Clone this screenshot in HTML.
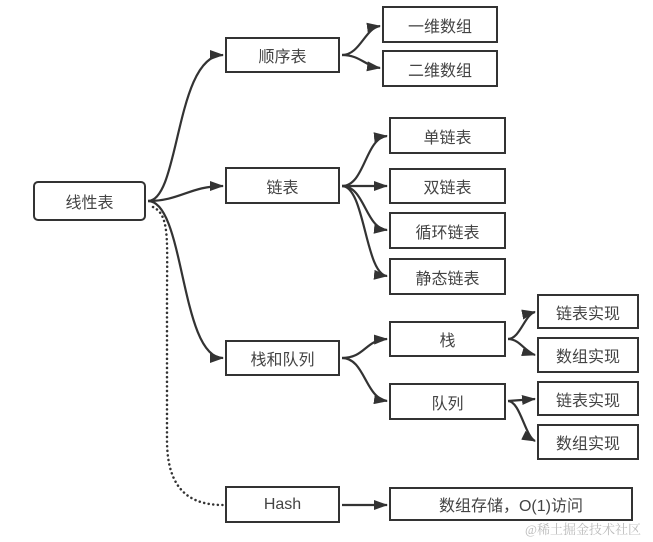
<!DOCTYPE html>
<html><head><meta charset="utf-8"><style>
body{margin:0;width:653px;height:542px;background:#fff;overflow:hidden;position:relative;font-family:"Liberation Sans","Noto Sans CJK SC",sans-serif}
.b{position:absolute;border:2px solid #333;box-sizing:border-box;display:flex;align-items:center;justify-content:center;font-size:16px;color:#444;background:#fff}
svg{position:absolute;left:0;top:0}
</style></head><body>
<svg width="653" height="542">
<defs><marker id="a" markerWidth="14" markerHeight="10" refX="13" refY="5" orient="auto" markerUnits="userSpaceOnUse"><path d="M0,0L14,5L0,10z" fill="#333"/></marker></defs>
<g fill="none" stroke="#333" stroke-width="2.2" marker-end="url(#a)">
<path d="M148,201C180,201 175,55 223,55"/>
<path d="M148,201C180,201 190,186 223,186"/>
<path d="M148,201C185,201 180,358 223,358"/>
<path d="M342,55C360,55 365,28 380,26"/>
<path d="M342,55C360,55 365,66 380,68"/>
<path d="M342,186C365,186 365,138 387,136"/>
<path d="M342,186L387,186"/>
<path d="M342,186C365,186 365,228 387,230"/>
<path d="M342,186C365,186 365,274 387,276"/>
<path d="M342,358C365,358 365,340 387,339"/>
<path d="M342,358C365,358 365,398 387,401"/>
<path d="M508,339C520,339 525,314 535,312"/>
<path d="M508,339C520,339 525,352 535,355"/>
<path d="M508,401L535,399"/>
<path d="M508,401C520,401 525,436 535,441"/>
<path d="M342,505L387,505"/>
</g>
<path d="M153,207C170,215 167,240 167,300L167,440C167,490 190,505 223,505" fill="none" stroke="#333" stroke-width="2.5" stroke-linecap="round" stroke-dasharray="0.1,4.5"/>
</svg>
<div class="b" style="left:33px;top:181px;width:113px;height:40px;border-radius:5px">线性表</div>
<div class="b" style="left:225px;top:37px;width:115px;height:36px">顺序表</div>
<div class="b" style="left:382px;top:6px;width:116px;height:37px">一维数组</div>
<div class="b" style="left:382px;top:50px;width:116px;height:37px">二维数组</div>
<div class="b" style="left:225px;top:167px;width:115px;height:37px">链表</div>
<div class="b" style="left:389px;top:117px;width:117px;height:37px">单链表</div>
<div class="b" style="left:389px;top:168px;width:117px;height:36px">双链表</div>
<div class="b" style="left:389px;top:212px;width:117px;height:37px">循环链表</div>
<div class="b" style="left:389px;top:258px;width:117px;height:37px">静态链表</div>
<div class="b" style="left:225px;top:340px;width:115px;height:36px">栈和队列</div>
<div class="b" style="left:389px;top:321px;width:117px;height:36px">栈</div>
<div class="b" style="left:389px;top:383px;width:117px;height:37px">队列</div>
<div class="b" style="left:537px;top:294px;width:102px;height:35px">链表实现</div>
<div class="b" style="left:537px;top:337px;width:102px;height:36px">数组实现</div>
<div class="b" style="left:537px;top:381px;width:102px;height:35px">链表实现</div>
<div class="b" style="left:537px;top:424px;width:102px;height:36px">数组实现</div>
<div class="b" style="left:225px;top:486px;width:115px;height:37px">Hash</div>
<div class="b" style="left:389px;top:487px;width:244px;height:34px">数组存储，O(1)访问</div>
<div style="position:absolute;left:525px;top:519px;font-size:13px;color:#bbb;font-family:'Liberation Serif','Noto Serif CJK SC',serif">@稀土掘金技术社区</div>
</body></html>
